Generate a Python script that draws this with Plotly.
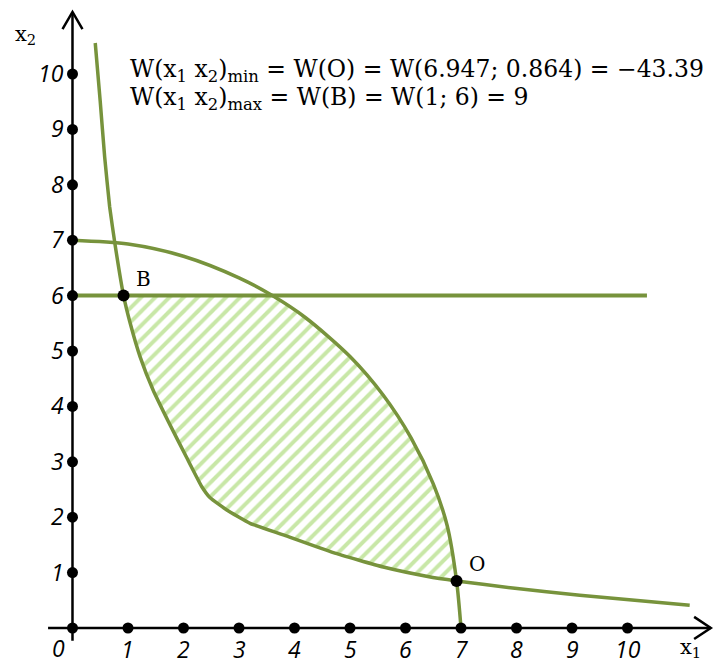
import plotly.graph_objects as go

# ---- data ----
hyper_x = [0.41, 0.50, 0.58, 0.67, 0.77, 0.92, 1.04, 1.22, 1.45, 1.74, 2.05, 2.33, 2.48,
           2.78, 3.20, 3.80, 4.70, 5.60, 6.40, 6.92, 7.93, 9.14, 11.12]
hyper_y = [10.56, 9.5, 8.5, 7.6, 6.9, 6.0, 5.5, 4.89, 4.30, 3.70, 3.09, 2.55, 2.35,
           2.13, 1.89, 1.68, 1.36, 1.10, 0.93, 0.85, 0.72, 0.59, 0.41]

circle_x = [0, 1, 2, 3, 3.6, 4.2, 5, 5.6, 6.1, 6.5, 6.75, 6.92, 7.0]
circle_y = [7, 6.93, 6.71, 6.32, 6.0, 5.6, 4.9, 4.2, 3.43, 2.6, 1.85, 0.85, 0]

limit_x = [0, 10.35]
limit_y = [6, 6]

point_names = ["B", "O"]
point_x = [0.92, 6.92]
point_y = [6.0, 0.85]

x_ticks = [1, 2, 3, 4, 5, 6, 7, 8, 9, 10]
y_ticks = [1, 2, 3, 4, 5, 6, 7, 8, 9, 10]
tick_labels_x = ["1", "2", "3", "4", "5", "6", "7", "8", "9", "10"]
tick_labels_y = ["1", "2", "3", "4", "5", "6", "7", "8", "9", "10"]

text_min = "W(x<sub>1</sub> x<sub>2</sub>)<sub>min</sub> = W(O) = W(6.947; 0.864) = −43.39"
text_max = "W(x<sub>1</sub> x<sub>2</sub>)<sub>max</sub> = W(B) = W(1; 6) = 9"

# ---- styles ----
OLIVE = "#77933c"
HATCH = "#92d050"
SERIF = "DejaVu Serif"
TICKFONT = "Open Sans"

x_min, x_max = -0.44, 11.5
y_min, y_max = -0.23, 11.12

fig = go.Figure()

# feasible region polygon: along the limit line from B, down the circle to O, back along the hyperbola
bx, by = point_x[0], point_y[0]
ox, oy = point_x[1], point_y[1]
reg_x, reg_y = [bx], [by]
for cx, cy in zip(circle_x, circle_y):
    if cy <= limit_y[0] and cy >= oy:
        reg_x.append(cx)
        reg_y.append(cy)
for hx, hy in reversed(list(zip(hyper_x, hyper_y))):
    if hx < ox and hx > bx:
        reg_x.append(hx)
        reg_y.append(hy)
reg_x.append(bx)
reg_y.append(by)

fig.add_trace(go.Scatter(
    x=reg_x, y=reg_y, mode="lines", fill="toself", line=dict(width=0),
    fillcolor="rgba(0,0,0,0)",
    fillpattern=dict(shape="/", fgcolor=HATCH, bgcolor="white", size=10, solidity=0.4),
    hoverinfo="skip", showlegend=False))

# curves
fig.add_trace(go.Scatter(x=hyper_x, y=hyper_y, mode="lines",
                         line=dict(color=OLIVE, width=3.5, shape="spline", smoothing=0.4),
                         showlegend=False, hoverinfo="skip"))
fig.add_trace(go.Scatter(x=circle_x, y=circle_y, mode="lines",
                         line=dict(color=OLIVE, width=3.5, shape="spline", smoothing=0.8),
                         showlegend=False, hoverinfo="skip"))
fig.add_trace(go.Scatter(x=limit_x, y=limit_y, mode="lines",
                         line=dict(color=OLIVE, width=4),
                         showlegend=False, hoverinfo="skip"))

# axes
fig.add_trace(go.Scatter(x=[x_min, x_max], y=[0, 0], mode="lines",
                         line=dict(color="black", width=2.5), showlegend=False, hoverinfo="skip"))
fig.add_trace(go.Scatter(x=[0, 0], y=[y_min, y_max], mode="lines",
                         line=dict(color="black", width=2.5), showlegend=False, hoverinfo="skip"))
# arrow heads (open chevrons)
fig.add_trace(go.Scatter(x=[x_max - 0.3, x_max, x_max - 0.3], y=[0.2, 0, -0.2], mode="lines",
                         line=dict(color="black", width=2.5), showlegend=False, hoverinfo="skip"))
fig.add_trace(go.Scatter(x=[-0.18, 0, 0.18], y=[y_max - 0.31, y_max, y_max - 0.31], mode="lines",
                         line=dict(color="black", width=2.5), showlegend=False, hoverinfo="skip"))

# tick dots
fig.add_trace(go.Scatter(x=[0] + x_ticks + [0] * len(y_ticks),
                         y=[0] + [0] * len(x_ticks) + y_ticks,
                         mode="markers", marker=dict(color="black", size=11),
                         showlegend=False, hoverinfo="skip"))
# special points
fig.add_trace(go.Scatter(x=point_x, y=point_y, mode="markers",
                         marker=dict(color="black", size=12),
                         showlegend=False, hoverinfo="skip"))
for name, px_, py_ in zip(point_names, point_x, point_y):
    fig.add_annotation(x=px_, y=py_, text=name, showarrow=False,
                       xanchor="left", yanchor="bottom", xshift=10, yshift=3,
                       font=dict(family=SERIF, size=20, color="black"))

# tick labels
tick_font = dict(family=TICKFONT, size=23, color="black", style="italic")
for v, lab in zip(x_ticks, tick_labels_x):
    fig.add_annotation(x=v, y=0, text=lab, showarrow=False,
                       xanchor="center", yanchor="top", yshift=-3, font=tick_font)
for v, lab in zip(y_ticks, tick_labels_y):
    fig.add_annotation(x=0, y=v, text=lab, showarrow=False,
                       xanchor="right", yanchor="middle", xshift=-6, yshift=1, font=tick_font)
fig.add_annotation(x=0, y=0, text="0", showarrow=False,
                   xanchor="right", yanchor="top", xshift=-5, yshift=-2, font=tick_font)

# axis names
fig.add_annotation(x=0, y=y_max, text="x<sub>2</sub>", showarrow=False,
                   xanchor="right", yanchor="top", xshift=-34, yshift=-8,
                   font=dict(family=SERIF, size=21, color="black"))
fig.add_annotation(x=x_max, y=0, text="x<sub>1</sub>", showarrow=False,
                   xanchor="right", yanchor="top", xshift=-8, yshift=-5,
                   font=dict(family=SERIF, size=21, color="black"))

# result text
fig.add_annotation(x=1.0, y=10.07, text=text_min, showarrow=False,
                   xanchor="left", yanchor="middle",
                   font=dict(family=SERIF, size=23.5, color="black"))
fig.add_annotation(x=1.0, y=9.55, text=text_max, showarrow=False,
                   xanchor="left", yanchor="middle",
                   font=dict(family=SERIF, size=23.5, color="black"))

fig.update_layout(
    width=714, height=664, margin=dict(l=0, r=0, t=0, b=0),
    paper_bgcolor="white", plot_bgcolor="white",
    xaxis=dict(range=[-1.306, 11.558], visible=False, fixedrange=True),
    yaxis=dict(range=[-0.65, 11.336], visible=False, fixedrange=True),
    showlegend=False,
)

fig.write_html("out.html", config={"displayModeBar": False},
               post_script="document.body.style.margin='0';")
